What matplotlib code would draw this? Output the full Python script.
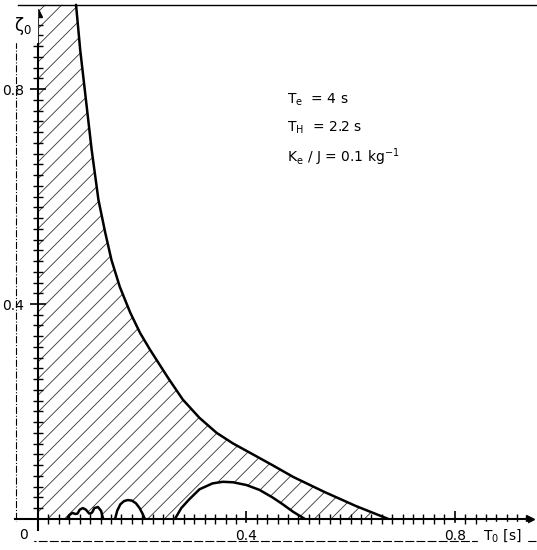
import numpy as np
import matplotlib.pyplot as plt
from matplotlib.patches import Polygon

plt.rcParams['mathtext.default'] = 'regular'
plt.rcParams['hatch.linewidth'] = 0.6

# upper stability boundary  (T0 [s], zeta0)
upper_T = [0.073, 0.081, 0.092, 0.103, 0.116, 0.129, 0.141, 0.157, 0.177, 0.196, 0.215,
           0.250, 0.278, 0.310, 0.343, 0.375, 0.407, 0.450, 0.490, 0.550, 0.610, 0.672]
upper_z = [0.957, 0.873, 0.780, 0.687, 0.594, 0.533, 0.482, 0.432, 0.384, 0.346, 0.315,
           0.262, 0.222, 0.188, 0.160, 0.140, 0.123, 0.100, 0.078, 0.050, 0.024, 0.000]

# large lower hump
hump_T = [0.263, 0.275, 0.290, 0.310, 0.335, 0.355, 0.375, 0.400, 0.425, 0.450, 0.470, 0.490, 0.512]
hump_z = [0.000, 0.020, 0.036, 0.055, 0.066, 0.069, 0.068, 0.063, 0.054, 0.040, 0.027, 0.013, 0.000]

# small humps near the origin
small_T = [0.056, 0.060, 0.066, 0.072, 0.076, 0.080, 0.086, 0.092, 0.098, 0.101,
           0.104, 0.108, 0.115, 0.121, 0.125]
small_z = [0.000, 0.007, 0.011, 0.009, 0.010, 0.017, 0.020, 0.017, 0.010, 0.010,
           0.012, 0.020, 0.022, 0.015, 0.000]
mid_T = [0.148, 0.152, 0.158, 0.165, 0.172, 0.180, 0.188, 0.195, 0.201, 0.205]
mid_z = [0.000, 0.015, 0.027, 0.033, 0.035, 0.034, 0.029, 0.020, 0.009, 0.000]

fig = plt.figure(figsize=(5.37, 5.5), dpi=100)
ax = fig.add_axes([0, 0, 1, 1])
ax.set_xlim(-0.073, 0.958)
ax.set_ylim(-0.058, 0.966)

# hatched (stable) region
verts = [(0, upper_z[0])] + list(zip(upper_T, upper_z))
verts += list(zip(hump_T[::-1], hump_z[::-1]))
verts += list(zip(mid_T[::-1], mid_z[::-1]))
verts += list(zip(small_T[::-1], small_z[::-1]))
verts += [(0, 0)]
ax.add_patch(Polygon(verts, closed=True, fill=False, hatch='//', edgecolor='#333333', lw=0))

for T, z in [(upper_T, upper_z), (hump_T, hump_z), (small_T, small_z), (mid_T, mid_z)]:
    ax.plot(T, z, color='black', lw=1.8, solid_capstyle='round', solid_joinstyle='round')

# axes through origin
for s in ['top', 'right']:
    ax.spines[s].set_visible(False)
ax.spines['left'].set_position(('data', 0))
ax.spines['bottom'].set_position(('data', 0))
ax.spines['left'].set_bounds(-0.02, 0.94)
ax.spines['bottom'].set_bounds(-0.044, 0.945)
ax.spines['left'].set_linewidth(1.5)
ax.spines['bottom'].set_linewidth(1.5)
ax.plot(0.945, 0, '>', color='black', ms=6, clip_on=False)
ax.plot(0, 0.942, '^', color='black', ms=6, clip_on=False)

ax.set_xticks([0.4, 0.8], ['0.4', '0.8'])
ax.set_yticks([0.4, 0.8], ['0.4', '0.8'])
ax.set_xticks(np.arange(0.02, 0.94, 0.02), minor=True)
ax.set_yticks(np.arange(0.02, 0.93, 0.02), minor=True)
ax.tick_params(which='major', direction='inout', length=12, width=1.2, labelsize=10)
ax.tick_params(axis='x', which='major', pad=1)
ax.tick_params(axis='y', which='major', pad=4)
ax.tick_params(which='minor', direction='inout', length=7, width=1.0)
for lbl in ax.get_xticklabels():
    lbl.set_backgroundcolor('white')

# frame of the original drawing
ax.plot([-0.038, 0.958], [0.957, 0.957], color='black', lw=1.0, clip_on=False)
ax.plot([-0.042, -0.042], [-0.045, 0.95], color='black', lw=0.8, ls='-.', clip_on=False)
ax.plot([-0.042, 0.958], [-0.041, -0.041], color='black', lw=0.8, ls=(0, (8, 2)), clip_on=False)

ax.text(-0.028, -0.03, '0', fontsize=10, ha='center', va='center', backgroundcolor='white')
ax.text(0.855, -0.032, '$T_0$ [s]', fontsize=10, ha='left', va='center', backgroundcolor='white')
ax.text(-0.029, 0.918, r'$\zeta_0$', fontsize=12, ha='center', va='center', backgroundcolor='white')

fig.text(287 / 537, 1 - 100 / 550, '$T_e$  = 4 s', fontsize=10, va='center')
fig.text(287 / 537, 1 - 128 / 550, '$T_H$  = 2.2 s', fontsize=10, va='center')
fig.text(287 / 537, 1 - 157 / 550, '$K_e$ / J = 0.1 kg$^{-1}$', fontsize=10, va='center')

fig.savefig('out.png', dpi=100)
